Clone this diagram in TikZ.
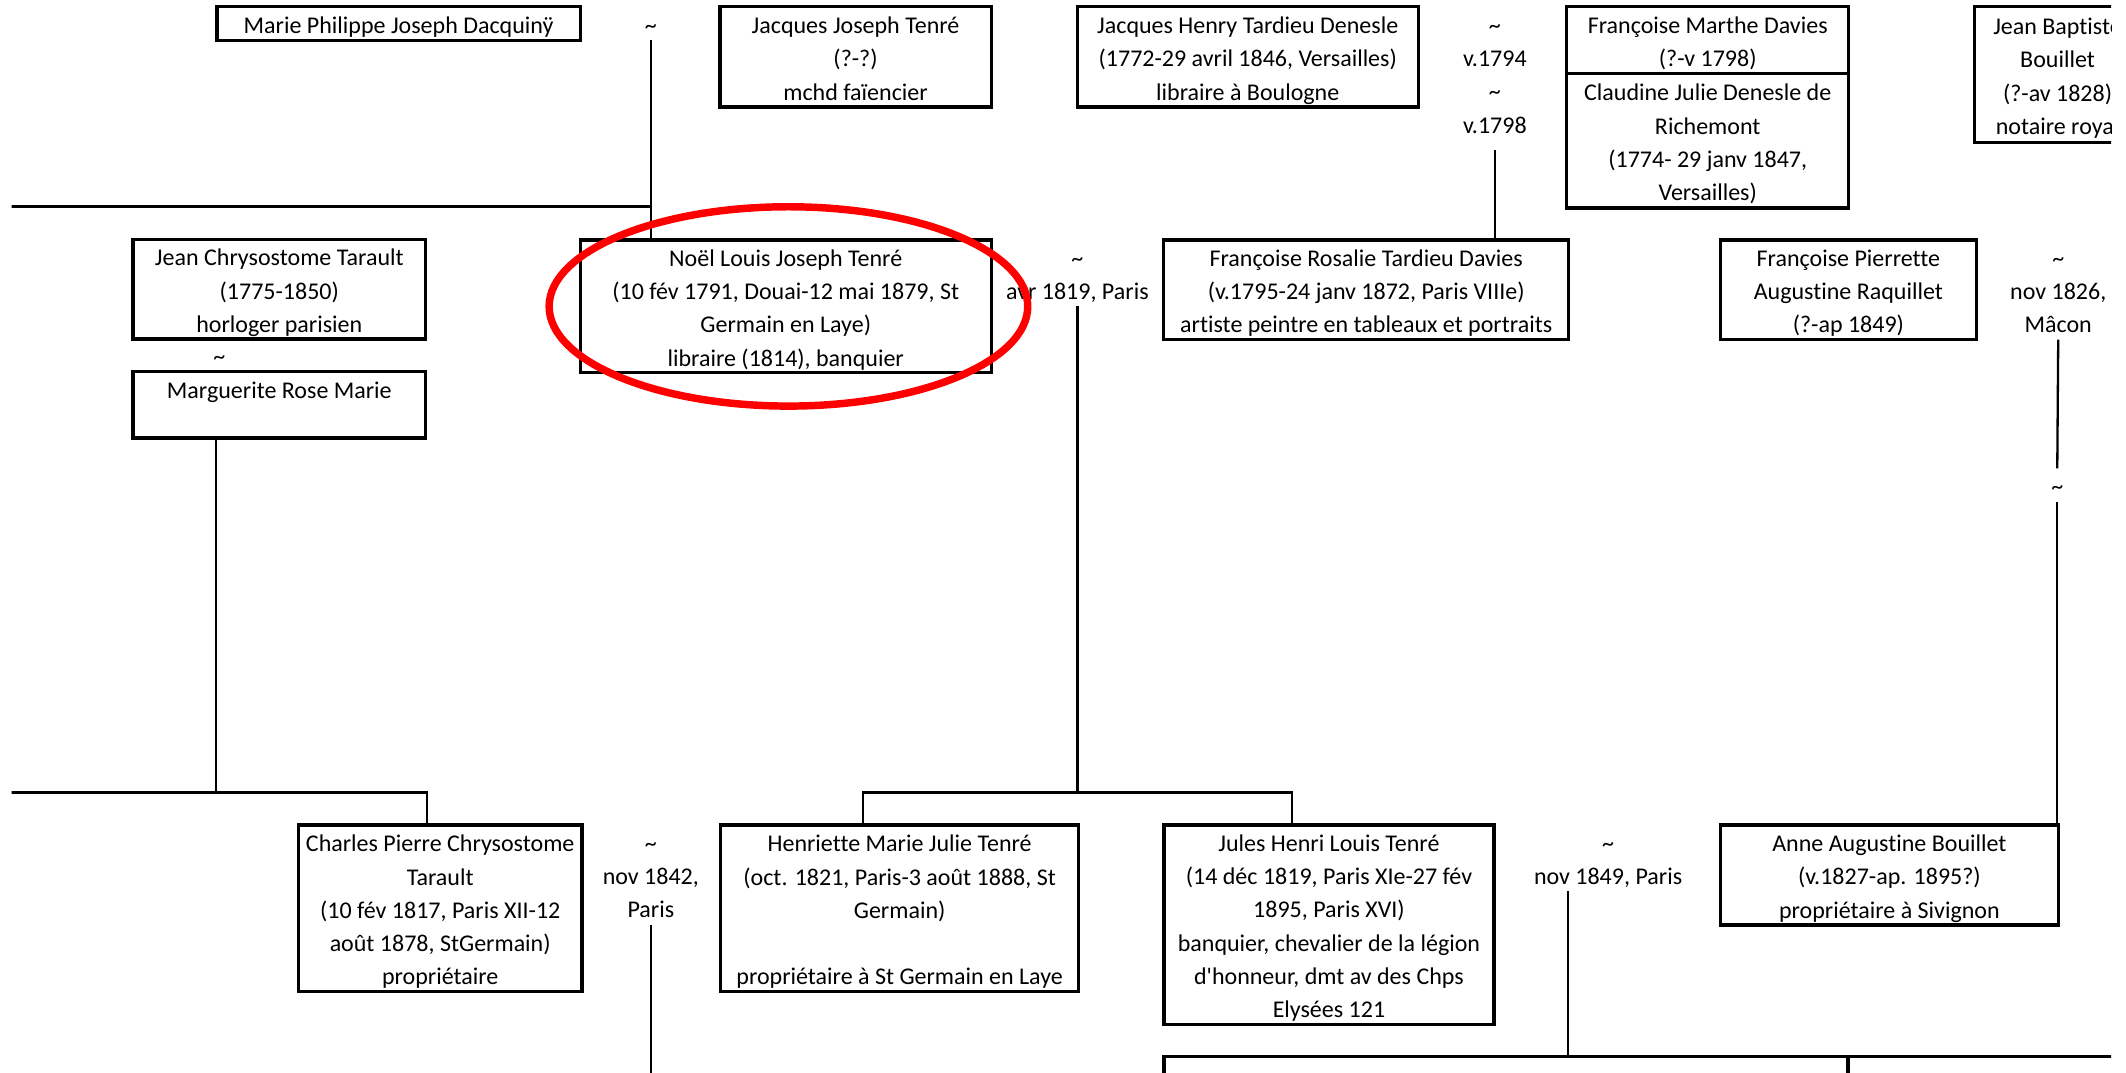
\documentclass[tikz,border=0pt]{standalone}
\usepackage{fontspec}
\setmainfont{Carlito}[Ligatures={TeXOff,CommonOff}]
\newcommand\mystrut{\rule[-4.9pt]{0pt}{24.5pt}}
\newcommand\NL{\\\mystrut}
\newcommand\tld{\textasciitilde}
\tikzset{
  txt/.style={font=\fontsize{17.7}{24.5}\selectfont, align=center, inner sep=0pt, outer sep=0pt},
  pbox/.style={txt, draw, line width=2.4pt, anchor=north west},
  lab/.style={txt, anchor=north},
  conn/.style={line width=1.7pt},
  thinconn/.style={line width=1.2pt},
  hilite/.style={draw=red, line width=5.5pt},
}
\begin{document}
\begin{tikzpicture}[x=1pt,y=-1pt]
\useasboundingbox (0,0) rectangle (1568,791);
\fill[white] (0,0) rectangle (1568,791);
\begin{scope}
\clip (8.5,0) rectangle (1557,791);
% ---------- row 1 ----------
\node[pbox, minimum width=268pt, minimum height=25pt] (mpjd) at (160,5) {\mystrut Marie Philippe Joseph Dacquinÿ};
\node[lab] (tA) at (480,5) {\mystrut\tld};
\node[pbox, minimum width=200pt, minimum height=74pt] (jjt) at (531,5) {\mystrut Jacques Joseph Tenré\NL(?-?)\NL mchd faïencier};
\node[pbox, minimum width=251.5pt, minimum height=74pt] (jhtd) at (794.5,5) {\mystrut Jacques Henry Tardieu Denesle\NL(1772-29 avril 1846, Versailles)\NL libraire à Boulogne};
\node[lab] (labB) at (1102.5,5) {\mystrut\tld\NL v.1794\NL\tld\NL v.1798};
\node[pbox, minimum width=208pt, minimum height=49pt] (fmd) at (1155.5,5) {\mystrut Françoise Marthe Davies\NL(?-v 1798)};
\node[pbox, minimum width=208pt, minimum height=99.5pt] (cjd) at (1155.5,54) {\mystrut Claudine Julie Denesle de\NL Richemont\NL(1774- 29 janv 1847,\NL Versailles)};
\node[pbox, minimum width=122pt, minimum height=100pt] (jbb) at (1456.5,5) {\mystrut Jean Baptiste\NL Bouillet\NL(?-av 1828)\NL notaire royal};
% ---------- row 2 ----------
\node[pbox, minimum width=216pt, minimum height=73.5pt] (jct) at (98,176.5) {\mystrut Jean Chrysostome Tarault\NL(1775-1850)\NL horloger parisien};
\node[lab] (tC) at (161.8,249) {\mystrut\tld};
\node[pbox, minimum width=216pt, minimum height=49pt] (mrm) at (98,274) {\mystrut Marguerite Rose Marie\NL\mbox{}};
\node[pbox, minimum width=303pt, minimum height=98pt] (noel) at (428,177) {\mystrut Noël Louis Joseph Tenré\NL(10 fév 1791, Douai-12 mai 1879, St\NL Germain en Laye)\NL libraire (1814), banquier};
\node[lab] (labD) at (794.6,177) {\mystrut\tld\NL avr 1819, Paris};
\node[pbox, minimum width=298.8pt, minimum height=73.2pt] (frtd) at (858.2,177) {\mystrut Françoise Rosalie Tardieu Davies\NL(v.1795-24 janv 1872, Paris VIIIe)\NL artiste peintre en tableaux et portraits};
\node[pbox, minimum width=188.5pt, minimum height=73.2pt] (fpar) at (1269,177) {\mystrut Françoise Pierrette\NL Augustine Raquillet\NL(?-ap 1849)};
\node[lab] (labE) at (1518,177) {\mystrut\tld\NL nov 1826,\NL Mâcon};
\node[lab] (tE) at (1517.3,345.4) {\mystrut\tld};
% ---------- row 3 ----------
\node[pbox, minimum width=209.3pt, minimum height=123pt] (cha) at (220,608.4) {\mystrut Charles Pierre Chrysostome\NL Tarault\NL(10 fév 1817, Paris XII-12\NL août 1878, StGermain)\NL propriétaire};
\node[lab] (labF) at (480,608.4) {\mystrut\tld\NL nov 1842,\NL Paris};
\node[pbox, minimum width=264pt, minimum height=123pt] (hen) at (531.5,608.4) {\mystrut Henriette Marie Julie Tenré\NL(oct. 1821, Paris-3 août 1888, St\NL Germain)\NL\mbox{}\NL propriétaire à St Germain en Laye};
\node[pbox, minimum width=243.3pt, minimum height=146.3pt] (jul) at (858.5,608.4) {\mystrut Jules Henri Louis Tenré\NL(14 déc 1819, Paris XIe-27 fév\NL 1895, Paris XVI)\NL banquier, chevalier de la légion\NL d'honneur, dmt av des Chps\NL Elysées 121};
\node[lab] (labG) at (1186,608.4) {\mystrut\tld\NL nov 1849, Paris};
\node[pbox, minimum width=249pt, minimum height=73.8pt] (anne) at (1269,608.4) {\mystrut Anne Augustine Bouillet\NL(v.1827-ap. 1895?)\NL propriétaire à Sivignon};
% ---------- row 4 (cut off) ----------
\node[pbox, minimum width=504.4pt, minimum height=60pt] (bot1) at (858.5,779.3) {};
\node[pbox, minimum width=300pt, minimum height=60pt] (bot2) at (1362.9,779.3) {};
% ---------- connectors ----------
\coordinate (aleft) at (0,152.4);
\coordinate (aj) at (480,152.4);
\draw[conn] (tA.south) -- (tA.south |- noel.north);
\draw[conn] (aleft) -- (aj);
\draw[conn, shorten <=8pt] (labB.south) -- (labB.south |- frtd.north);
\coordinate (cleft) at (0,584.6);
\coordinate (cj) at (159.2,584.6);
\draw[conn] ([xshift=-46.8pt]mrm.south) -- (cj);
\draw[conn] (cleft) -| ([xshift=-9.75pt]cha.north);
\coordinate (dj) at (794.6,584.6);
\draw[conn] (labD.south) -- (dj);
\draw[conn] ([xshift=-26.9pt]hen.north) |- (dj) -| ([xshift=-27.15pt]jul.north);
\draw[conn] (labE.south) -- (tE.north);
\draw[conn] (tE.south) -- (tE.south |- anne.north);
\coordinate (fend) at (480,800);
\draw[conn] (labF.south) -- (fend);
\draw[thinconn] ([xshift=-29.7pt]labG.south) -- ([xshift=-29.7pt]labG.south |- bot1.north);
% ---------- highlight ----------
\draw[hilite] (581.5,226) ellipse [x radius=176.5pt, y radius=73.5pt];
\end{scope}
\end{tikzpicture}
\end{document}
